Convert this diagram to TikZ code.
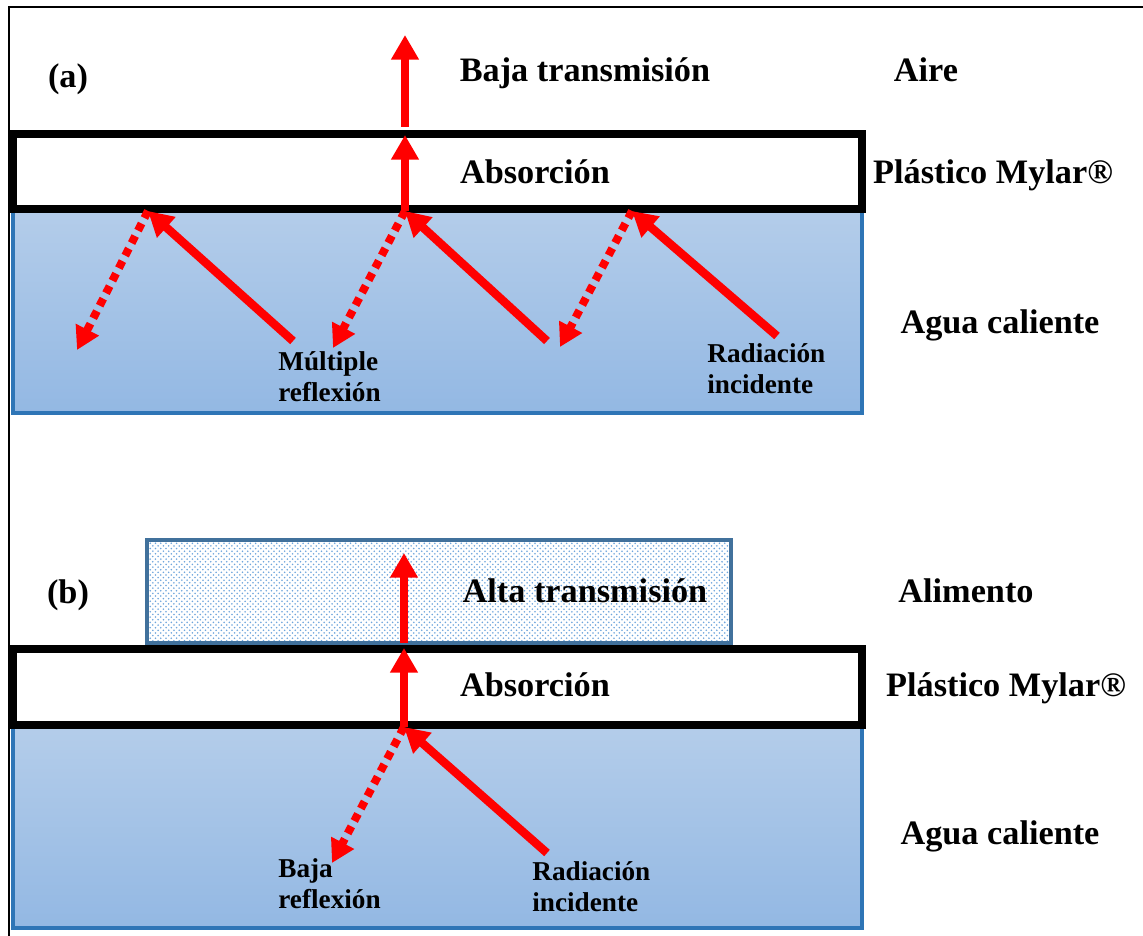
\documentclass[tikz,border=0pt]{standalone}
\usepackage{fontspec}
\setmainfont{Liberation Serif}
\usepackage{xcolor}
\usepackage{tikz}
\usetikzlibrary{arrows.meta}
\usetikzlibrary{patterns}
\definecolor{waterTop}{RGB}{180,205,234}
\definecolor{waterBot}{RGB}{147,184,227}
\definecolor{waterEdge}{RGB}{46,117,182}
\definecolor{foodEdge}{RGB}{65,113,156}
\definecolor{foodDots}{RGB}{110,165,220}
\tikzset{
    big/.style={font=\fontsize{19.5}{23}\selectfont\bfseries,inner sep=0pt,anchor=base},
    small/.style={font=\fontsize{15.5}{18}\selectfont\bfseries,inner sep=0pt,align=left,anchor=north west},
    ray/.style={draw=red,line width=4.8pt,-{Triangle[width=15pt,length=14pt]}},
    refl/.style={draw=red,line width=4.6pt,dash pattern=on 4.5pt off 3.5pt,-{Triangle[width=14pt,length=13pt]}},
    water/.style={draw=waterEdge,line width=2.3pt,top color=waterTop,bottom color=waterBot},
    mylar/.style={draw=black,line width=4.5pt,fill=white},
    food/.style={draw=foodEdge,line width=2.8pt,preaction={fill=white},pattern=crosshatch dots,pattern color=foodDots}
}

\begin{document}
\begin{tikzpicture}[x=0.02cm,y=-0.02cm]
        \useasboundingbox (0,0) rectangle (1143,936);
        \draw[line width=1.1pt] (9,936) -- (9,7) -- (1143,7);

        \draw[water] (13,209) rectangle (862,413);
        \draw[mylar] (13,134) rectangle (862,209);
        \coordinate (a1) at (148,211);
        \coordinate (a2) at (405,211);
        \coordinate (a3) at (632,211);
        \coordinate (s1) at (293,341);
        \coordinate (s2) at (547,341);
        \coordinate (s3) at (777,336);
        \coordinate (d1) at (77,350);
        \coordinate (d2) at (333,348);
        \coordinate (d3) at (560,347);
        \coordinate (up1) at (405,135);
        \coordinate (up2) at (405,127);
        \coordinate (up3) at (405,35);
        \draw[ray] (s1) -- (a1);
        \draw[ray] (s2) -- (a2);
        \draw[ray] (s3) -- (a3);
        \draw[refl] (a1) -- (d1);
        \draw[refl] (a2) -- (d2);
        \draw[refl] (a3) -- (d3);
        \draw[ray] (a2) -- (up1);
        \draw[ray] (up2) -- (up3);
        \node[big] (tagA) at (68,88) {(a)};
        \node[big] (lowT) at (585,82) {Baja transmisión};
        \node[big] (air) at (926,82) {Aire};
        \node[big] (absA) at (535,183) {Absorción};
        \node[big] (mylarA) at (993,183) {Plástico Mylar®};
        \node[big] (waterA) at (1000,333) {Agua caliente};
        \node[small] (multi) at (278,351) {Múltiple\\reflexión};
        \node[small] (incA) at (707,343) {Radiación\\incidente};

        \draw[water] (13,725) rectangle (862,928);
        \draw[food] (147,540) rectangle (731,643);
        \draw[mylar] (13,649) rectangle (862,725);
        \coordinate (b1) at (404,727);
        \coordinate (sb) at (547,853);
        \coordinate (db) at (332,863);
        \coordinate (ub1) at (404,648);
        \coordinate (ub2) at (404,643);
        \coordinate (ub3) at (404,553);
        \draw[ray] (sb) -- (b1);
        \draw[refl] (b1) -- (db);
        \draw[ray] (b1) -- (ub1);
        \draw[ray] (ub2) -- (ub3);
        \node[big] (tagB) at (68,603) {(b)};
        \node[big] (highT) at (585,602) {Alta transmisión};
        \node[big] (food) at (966,602) {Alimento};
        \node[big] (absB) at (535,696) {Absorción};
        \node[big] (mylarB) at (1006,696) {Plástico Mylar®};
        \node[big] (waterB) at (1000,844) {Agua caliente};
        \node[small] (lowR) at (278,858) {Baja\\reflexión};
        \node[small] (incB) at (532,861) {Radiación\\incidente};
\end{tikzpicture}
\end{document}
